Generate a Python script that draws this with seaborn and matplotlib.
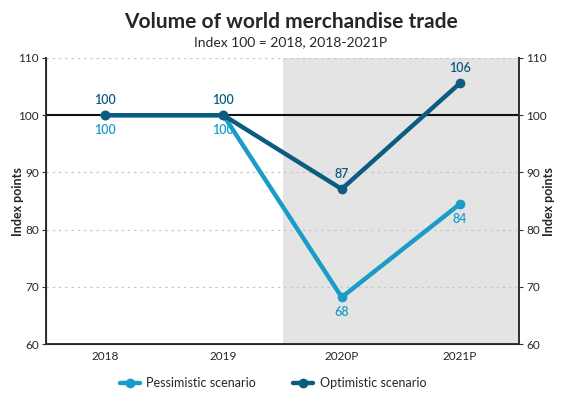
import numpy as np
import pandas as pd
import seaborn as sns
import matplotlib.pyplot as plt

years = ['2018', '2019', '2020P', '2021P']
pessimistic = [100, 100, 68.2, 84.5]
optimistic = [100, 100, 87.1, 105.6]
pess_labels = ['100', '100', '68', '84']
opt_labels = ['100', '100', '87', '106']

sns.set_style('white')
plt.rcParams['font.family'] = ['Lato', 'DejaVu Sans']

df = pd.DataFrame({
    'x': list(range(len(years))) * 2,
    'value': pessimistic + optimistic,
    'scenario': ['Pessimistic scenario'] * 4 + ['Optimistic scenario'] * 4,
})

c_pess = '#1b9cc8'
c_opt = '#0c5b80'

fig = plt.figure(figsize=(5.82, 3.97), dpi=100)
ax = fig.add_axes([0.079, 0.133, 0.813, 0.721])

ax.axvspan(1.5, 3.5, color='#e4e4e4', zorder=0, lw=0)
for yv in [70, 80, 90, 110]:
    ax.axhline(yv, color='#c8c8c8', lw=0.9, ls=(0, (2, 3)), zorder=1)
ax.axhline(100, color='#111111', lw=1.5, zorder=2)

sns.lineplot(data=df, x='x', y='value', hue='scenario',
             palette={'Pessimistic scenario': c_pess, 'Optimistic scenario': c_opt},
             marker='o', markersize=7, markeredgewidth=0, lw=3.2, ax=ax, zorder=3)

for i in range(len(years)):
    ax.text(i, optimistic[i] + 1.6, opt_labels[i], color=c_opt, ha='center', va='bottom',
            fontsize=9, fontweight='semibold')
    ax.text(i, pessimistic[i] - 1.6, pess_labels[i], color=c_pess, ha='center', va='top',
            fontsize=9, fontweight='semibold')

ax.set_xlim(-0.5, 3.5)
ax.set_ylim(60, 110)
ax.set_xticks(range(len(years)))
ax.set_xticklabels(years, fontsize=8.5)
ax.set_yticks([60, 70, 80, 90, 100, 110])
ax.tick_params(axis='y', labelsize=8.5, length=3, width=0.8, color='#333333', pad=2)
ax.tick_params(axis='x', length=0, pad=5)
ax.set_xlabel('')
ax.set_ylabel('Index points', fontsize=9, fontweight='bold')
ax.yaxis.set_label_coords(-0.047, 0.5)

ax.spines['top'].set_visible(False)
for s in ['left', 'bottom', 'right']:
    ax.spines[s].set_color('#333333')
    ax.spines[s].set_linewidth(1.4)

ax2 = ax.twinx()
ax2.set_ylim(60, 110)
ax2.set_yticks([60, 70, 80, 90, 100, 110])
ax2.tick_params(axis='y', labelsize=8.5, length=3, width=0.8, color='#333333', pad=2)
ax2.set_ylabel('Index points', fontsize=9, fontweight='bold')
ax2.yaxis.set_label_coords(1.05, 0.5)
ax2.spines['top'].set_visible(False)
ax2.spines['right'].set_color('#333333')
ax2.spines['right'].set_linewidth(1.4)

handles, labels = ax.get_legend_handles_labels()
ax.legend(handles, labels, loc='upper center', bbox_to_anchor=(0.48, -0.075), ncol=2,
          frameon=False, fontsize=9, handlelength=1.6, columnspacing=3, handletextpad=0.5)

fig.text(0.5, 0.945, 'Volume of world merchandise trade', ha='center', va='center',
         fontsize=15, fontweight='bold')
fig.text(0.5, 0.895, 'Index 100 = 2018, 2018-2021P', ha='center', va='center', fontsize=10)

fig.savefig('out.png', dpi=100)
